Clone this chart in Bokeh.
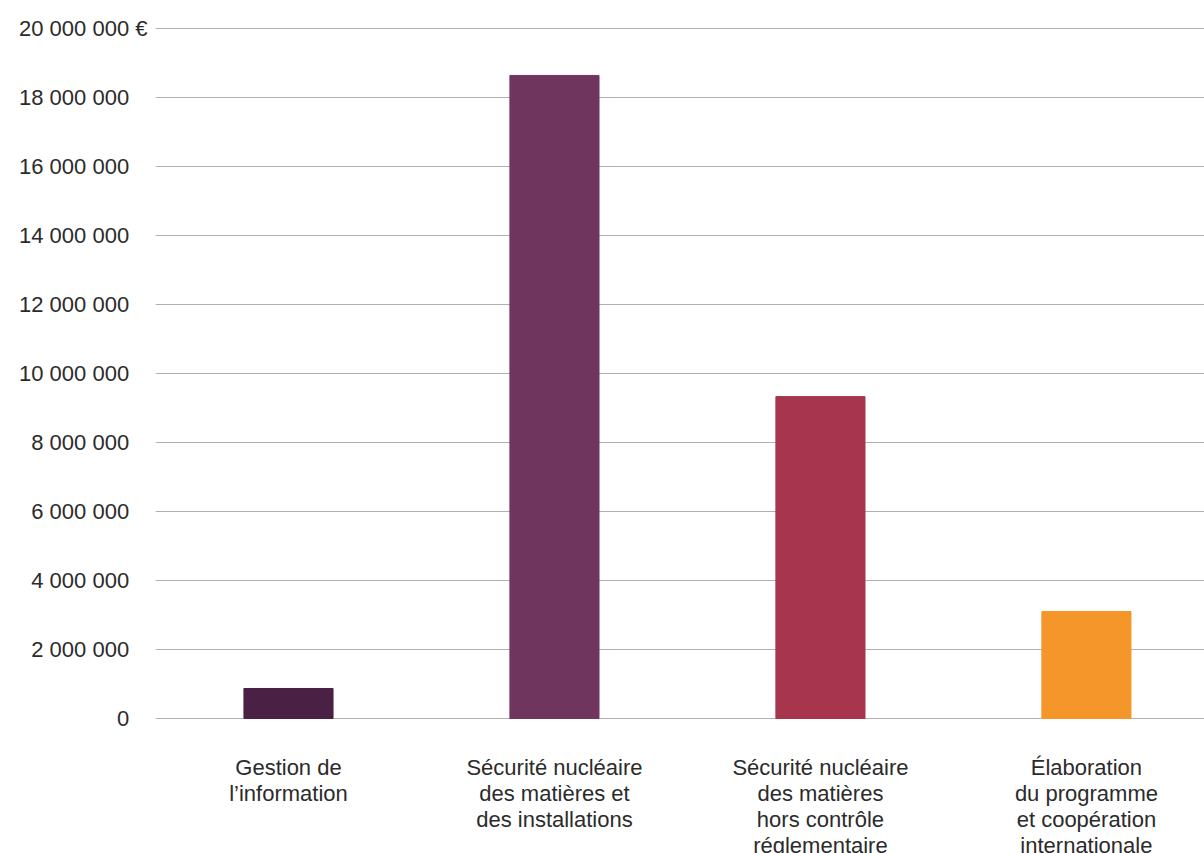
from bokeh.plotting import figure
from bokeh.models import Range1d, FixedTicker, ColumnDataSource
from bokeh.core.properties import value
from bokeh.embed import file_html
from bokeh.resources import INLINE

categories = [
    "Gestion de\nl\u2019information",
    "Sécurité nucléaire\ndes matières et\ndes installations",
    "Sécurité nucléaire\ndes matières\nhors contrôle\nréglementaire",
    "Élaboration\ndu programme\net coopération\ninternationale",
]
amounts = [870000, 18640000, 9330000, 3100000]
colors = ["#4a2145", "#70355e", "#a6354d", "#f5962a"]

y_ticks = [0, 2000000, 4000000, 6000000, 8000000, 10000000,
           12000000, 14000000, 16000000, 18000000, 20000000]
y_tick_labels = ["0", "2 000 000", "4 000 000", "6 000 000", "8 000 000",
                 "10 000 000", "12 000 000", "14 000 000", "16 000 000",
                 "18 000 000", "20 000 000 €"]

FONT = "Liberation Sans"
TXT = "#2b2b2b"

xs = list(range(len(categories)))
src = ColumnDataSource(dict(x=xs, top=amounts, color=colors, label=categories))

p = figure(width=1204, height=853, output_backend="svg", toolbar_location=None,
           x_range=Range1d(-0.5, 3.444), y_range=Range1d(-3913000, 20812000),
           min_border_left=155, min_border_right=0, min_border_top=0,
           min_border_bottom=0)
p.outline_line_color = None
p.background_fill_color = "white"
p.border_fill_color = "white"

p.vbar(x="x", top="top", width=0.335, color="color", source=src)

p.text(x="x", y=0, text="label", source=src, text_align="center",
       text_baseline="top", y_offset=36, text_font=value(FONT),
       text_font_size="22px", text_color=TXT, text_line_height=1.04)

p.xaxis.visible = False
p.xgrid.visible = False

ya = p.yaxis[0]
ya.ticker = FixedTicker(ticks=y_ticks)
pad = "\u00a0\u2007"
ya.major_label_overrides = {
    t: (lab if lab.endswith("€") else lab + pad)
    for t, lab in zip(y_ticks, y_tick_labels)
}
ya.axis_line_color = None
ya.major_tick_line_color = None
ya.minor_tick_line_color = None
ya.major_tick_in = 0
ya.major_tick_out = 0
ya.major_label_standoff = 8
ya.major_label_text_font = FONT
ya.major_label_text_font_size = "22px"
ya.major_label_text_color = TXT

p.ygrid.ticker = FixedTicker(ticks=y_ticks)
p.ygrid.grid_line_color = "#b0b0b0"
p.ygrid.grid_line_width = 1.2

open("out.html", "w").write(file_html(p, INLINE))
